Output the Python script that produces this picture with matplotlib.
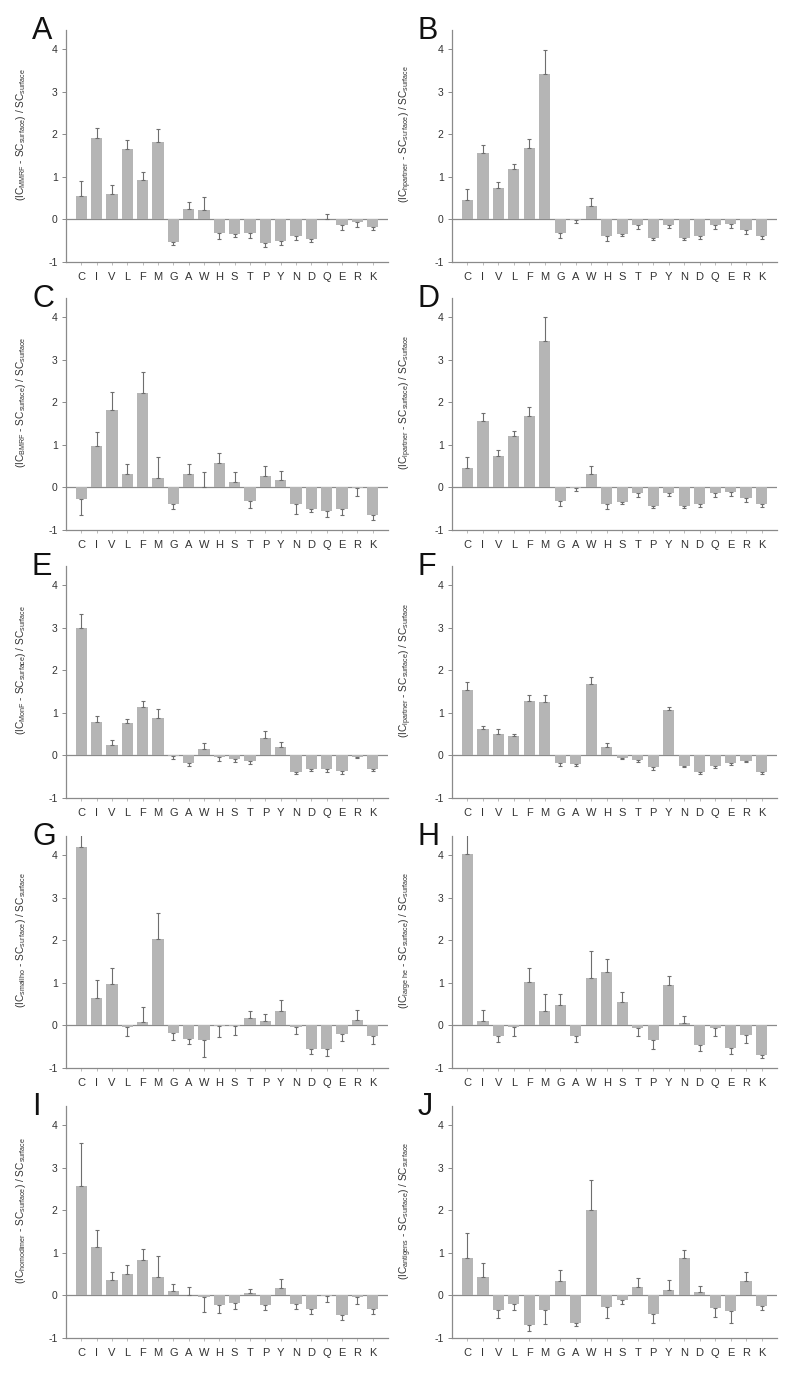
import numpy as np
import matplotlib
matplotlib.use('Agg')
import matplotlib.pyplot as plt

plt.rcParams['font.family'] = ['Liberation Sans', 'DejaVu Sans']
plt.rcParams['mathtext.default'] = 'regular'
plt.rcParams['axes.unicode_minus'] = False

# residues on the x axis
residues = ['C', 'I', 'V', 'L', 'F', 'M', 'G', 'A', 'W', 'H',
            'S', 'T', 'P', 'Y', 'N', 'D', 'Q', 'E', 'R', 'K']

# panel letters and the subscript of IC in each y label
panel_letters = ['A', 'B', 'C', 'D', 'E', 'F', 'G', 'H', 'I', 'J']
ic_subscripts = ['MMRF', 'hpartner', 'BMRF', 'lpartner', 'MonF',
                 'lpartner', 'smallho', 'large he', 'homodimer', 'antigens']

# values (error bars are one-sided, away from zero)
vals_A = [0.56, 1.92, 0.60, 1.66, 0.92, 1.82, -0.53, 0.25, 0.23, -0.31,
          -0.34, -0.32, -0.56, -0.51, -0.40, -0.46, 0.02, -0.12, -0.05, -0.18]
errs_A = [0.35, 0.22, 0.20, 0.20, 0.20, 0.30, 0.08, 0.15, 0.30, 0.15,
          0.08, 0.12, 0.08, 0.08, 0.08, 0.06, 0.11, 0.12, 0.13, 0.08]

vals_B = [0.45, 1.56, 0.75, 1.19, 1.68, 3.41, -0.31, -0.02, 0.31, -0.39,
          -0.35, -0.12, -0.44, -0.12, -0.43, -0.38, -0.13, -0.10, -0.26, -0.40]
errs_B = [0.27, 0.18, 0.13, 0.12, 0.20, 0.58, 0.13, 0.06, 0.20, 0.12,
          0.05, 0.10, 0.05, 0.08, 0.05, 0.09, 0.09, 0.10, 0.08, 0.06]

vals_C = [-0.28, 0.98, 1.81, 0.32, 2.22, 0.21, -0.39, 0.32, 0.01, 0.57,
          0.13, -0.32, 0.27, 0.17, -0.40, -0.51, -0.56, -0.51, -0.02, -0.64]
errs_C = [0.36, 0.32, 0.44, 0.23, 0.50, 0.50, 0.11, 0.23, 0.35, 0.25,
          0.23, 0.16, 0.24, 0.22, 0.22, 0.07, 0.14, 0.13, 0.18, 0.12]

vals_D = [0.45, 1.57, 0.75, 1.20, 1.68, 3.43, -0.31, -0.02, 0.31, -0.39,
          -0.35, -0.12, -0.44, -0.12, -0.43, -0.38, -0.13, -0.10, -0.26, -0.40]
errs_D = [0.27, 0.18, 0.13, 0.12, 0.20, 0.57, 0.13, 0.06, 0.20, 0.12,
          0.05, 0.10, 0.05, 0.08, 0.05, 0.09, 0.09, 0.10, 0.08, 0.06]

vals_E = [2.99, 0.78, 0.25, 0.76, 1.13, 0.89, -0.02, -0.17, 0.16, -0.03,
          -0.09, -0.12, 0.40, 0.20, -0.40, -0.33, -0.33, -0.37, -0.03, -0.33]
errs_E = [0.34, 0.15, 0.11, 0.10, 0.16, 0.20, 0.06, 0.08, 0.14, 0.09,
          0.06, 0.08, 0.18, 0.12, 0.04, 0.04, 0.06, 0.07, 0.04, 0.04]

vals_F = [1.53, 0.61, 0.50, 0.45, 1.28, 1.26, -0.18, -0.20, 1.68, 0.20,
          -0.06, -0.10, -0.28, 1.06, -0.24, -0.38, -0.26, -0.18, -0.12, -0.39]
errs_F = [0.20, 0.08, 0.11, 0.06, 0.14, 0.16, 0.06, 0.05, 0.17, 0.09,
          0.03, 0.05, 0.06, 0.08, 0.04, 0.05, 0.04, 0.04, 0.04, 0.05]

vals_G = [4.19, 0.65, 0.98, -0.04, 0.07, 2.02, -0.18, -0.31, -0.34, -0.02,
          -0.02, 0.17, 0.11, 0.35, -0.04, -0.55, -0.55, -0.20, 0.13, -0.24]
errs_G = [0.31, 0.41, 0.37, 0.22, 0.36, 0.63, 0.17, 0.13, 0.39, 0.26,
          0.20, 0.16, 0.16, 0.24, 0.16, 0.13, 0.16, 0.16, 0.24, 0.20]

vals_H = [4.03, 0.11, -0.24, -0.04, 1.02, 0.35, 0.49, -0.26, 1.12, 1.26,
          0.55, -0.05, -0.35, 0.94, 0.06, -0.47, -0.06, -0.52, -0.22, -0.69]
errs_H = [0.49, 0.26, 0.16, 0.22, 0.33, 0.39, 0.25, 0.14, 0.63, 0.29,
          0.24, 0.19, 0.20, 0.22, 0.15, 0.12, 0.18, 0.16, 0.20, 0.07]

vals_I = [2.57, 1.13, 0.36, 0.50, 0.83, 0.43, 0.11, 0.01, -0.03, -0.23,
          -0.17, 0.05, -0.23, 0.17, -0.19, -0.31, -0.02, -0.46, -0.04, -0.33]
errs_I = [1.02, 0.40, 0.20, 0.22, 0.26, 0.50, 0.16, 0.19, 0.36, 0.18,
          0.16, 0.10, 0.12, 0.21, 0.14, 0.12, 0.13, 0.12, 0.15, 0.10]

vals_J = [0.87, 0.44, -0.35, -0.21, -0.70, -0.35, 0.34, -0.64, 2.00, -0.28,
          -0.11, 0.20, -0.43, 0.13, 0.88, 0.09, -0.30, -0.36, 0.33, -0.25]
errs_J = [0.59, 0.32, 0.19, 0.14, 0.13, 0.31, 0.26, 0.08, 0.72, 0.24,
          0.10, 0.20, 0.22, 0.23, 0.18, 0.13, 0.20, 0.29, 0.21, 0.10]

all_vals = [vals_A, vals_B, vals_C, vals_D, vals_E,
            vals_F, vals_G, vals_H, vals_I, vals_J]
all_errs = [errs_A, errs_B, errs_C, errs_D, errs_E,
            errs_F, errs_G, errs_H, errs_I, errs_J]

W, H = 800, 1380
fig = plt.figure(figsize=(W / 100, H / 100), dpi=100)

# pixel geometry of the panels
col_left = [66, 452]
col_width = [322, 325]
row_bottom = [262, 530, 798, 1068, 1338]
ax_height = 232

bar_color = '#b5b5b5'
axis_color = '#8a8a8a'
text_color = '#333333'

x = np.arange(len(residues))

for i in range(10):
    r, c = divmod(i, 2)
    left = col_left[c] / W
    bottom = 1 - row_bottom[r] / H
    ax = fig.add_axes([left, bottom, col_width[c] / W, ax_height / H])

    v = np.array(all_vals[i])
    e = np.array(all_errs[i])
    lower = np.where(v < 0, e, 0)
    upper = np.where(v >= 0, e, 0)

    ax.bar(x, v, width=0.72, color=bar_color, edgecolor='none', zorder=2)
    ax.errorbar(x, v, yerr=[lower, upper], fmt='none', ecolor='#6e6e6e',
                elinewidth=0.8, capsize=1.2, capthick=0.8, zorder=3)
    ax.axhline(0, color=axis_color, lw=0.9, zorder=1)

    ax.set_xlim(-1, 20)
    ax.set_ylim(-1, 4.45)
    ax.set_yticks([-1, 0, 1, 2, 3, 4])
    ax.set_xticks(x)
    ax.set_xticklabels(residues)

    for side in ['top', 'right']:
        ax.spines[side].set_visible(False)
    for side in ['left', 'bottom']:
        ax.spines[side].set_color(axis_color)
        ax.spines[side].set_linewidth(0.9)
    ax.tick_params(axis='y', length=3, width=0.7, colors=axis_color,
                   labelcolor=text_color, labelsize=7.5, pad=3)
    ax.tick_params(axis='x', length=2.5, width=0.7, colors='#bbbbbb',
                   labelcolor=text_color, labelsize=8, pad=5)

    sub = ic_subscripts[i].replace(' ', r'\ ')
    ax.set_ylabel(r'(IC$_{%s}$ - SC$_{surface}$) / SC$_{surface}$' % sub,
                  fontsize=7.3, color=text_color)
    ax.yaxis.set_label_coords(-0.118, 0.55)

    fig.text((col_left[c] - 34) / W, 1 - (row_bottom[r] - 231) / H,
             panel_letters[i], fontsize=22, color='#111111',
             ha='left', va='center')

fig.savefig('out.png', dpi=100, facecolor='white')
